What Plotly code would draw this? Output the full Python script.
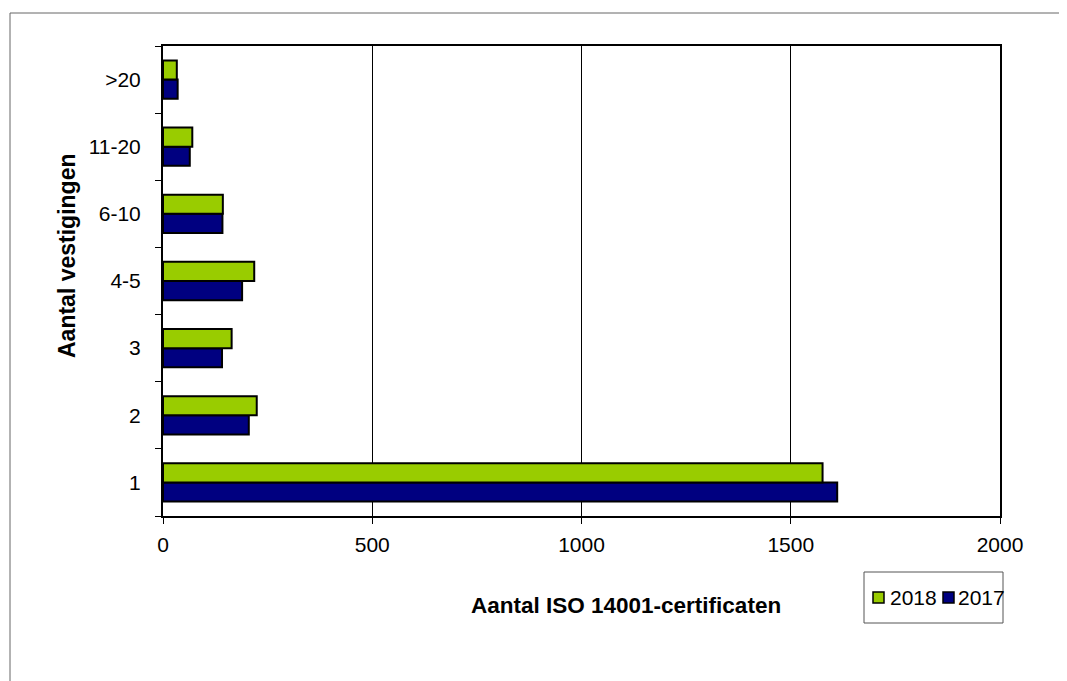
import plotly.graph_objects as go

categories = ["1", "2", "3", "4-5", "6-10", "11-20", ">20"]
values_2017 = [1611, 205, 141, 189, 142, 64, 35]
values_2018 = [1576, 224, 164, 218, 143, 70, 33]
series_names = ["2018", "2017"]
series_colors = {"2018": "#99CC00", "2017": "#000080"}
x_title = "Aantal ISO 14001-certificaten"
y_title = "Aantal vestigingen"

OFF = 8  # page body margin
W, H = 1059, 673
L, T = 155, 38
pw, ph = 837, 470
R, B = W - L - pw, H - T - ph

def px2x(px):
    return (px - OFF - L) / pw

def px2y(py):
    return 1 - (py - OFF - T) / ph

fig = go.Figure()
fig.add_trace(go.Bar(y=categories, x=values_2017, orientation="h", name="2017",
                     marker=dict(color=series_colors["2017"], line=dict(color="black", width=2))))
fig.add_trace(go.Bar(y=categories, x=values_2018, orientation="h", name="2018",
                     marker=dict(color=series_colors["2018"], line=dict(color="black", width=2))))

font = "Liberation Sans, Arial, sans-serif"
fig.update_layout(
    width=W, height=H,
    margin=dict(l=L, r=R, t=T, b=B, autoexpand=False),
    paper_bgcolor="white", plot_bgcolor="white",
    barmode="group", bargap=0.43, bargroupgap=0,
    font=dict(family=font, size=21, color="black"),
    showlegend=False,
    xaxis=dict(range=[0, 2000], tickvals=[0, 500, 1000, 1500, 2000],
               showgrid=True, gridcolor="black", gridwidth=1,
               showline=True, linecolor="black", linewidth=2, mirror=True,
               ticks="outside", ticklen=6, tickcolor="black",
               ticklabelstandoff=3, zeroline=False),
    yaxis=dict(showgrid=False, showline=True, linecolor="black", linewidth=2, mirror=True,
               ticks="outside", ticklen=6, tickcolor="black", tickson="boundaries",
               ticklabelstandoff=16),
)

# axis titles (placed as in the reference)
fig.add_annotation(xref="paper", yref="paper", x=px2x(626), y=px2y(605),
                   text="<b>%s</b>" % x_title, showarrow=False,
                   xanchor="center", yanchor="middle",
                   font=dict(size=22.5, family=font, color="black"))
fig.add_annotation(xref="paper", yref="paper", x=px2x(67), y=px2y(256),
                   text="<b>%s</b>" % y_title, showarrow=False, textangle=-90,
                   xanchor="center", yanchor="middle",
                   font=dict(size=23, family=font, color="black"))

# outer chart frame
fig.add_shape(type="rect", xref="paper", yref="paper",
              x0=px2x(10), x1=px2x(1085), y0=px2y(700), y1=px2y(13),
              line=dict(color="#666666", width=1), fillcolor="rgba(0,0,0,0)", layer="below")
# legend box
fig.add_shape(type="rect", xref="paper", yref="paper",
              x0=px2x(864), x1=px2x(1003), y0=px2y(623), y1=px2y(572),
              line=dict(color="#555555", width=1), fillcolor="rgba(0,0,0,0)")
# legend entries
legend_pos = {"2018": (873, 888), "2017": (943, 956)}
for name in series_names:
    sx, tx = legend_pos[name]
    fig.add_shape(type="rect", xref="paper", yref="paper",
                  x0=px2x(sx), x1=px2x(sx + 11), y0=px2y(603), y1=px2y(592),
                  line=dict(color="black", width=1.5), fillcolor=series_colors[name])
    fig.add_annotation(xref="paper", yref="paper", x=px2x(tx), y=px2y(597.5),
                       text=name, showarrow=False, xanchor="left", yanchor="middle",
                       font=dict(size=21, family=font, color="black"))

fig.write_html("out.html")
